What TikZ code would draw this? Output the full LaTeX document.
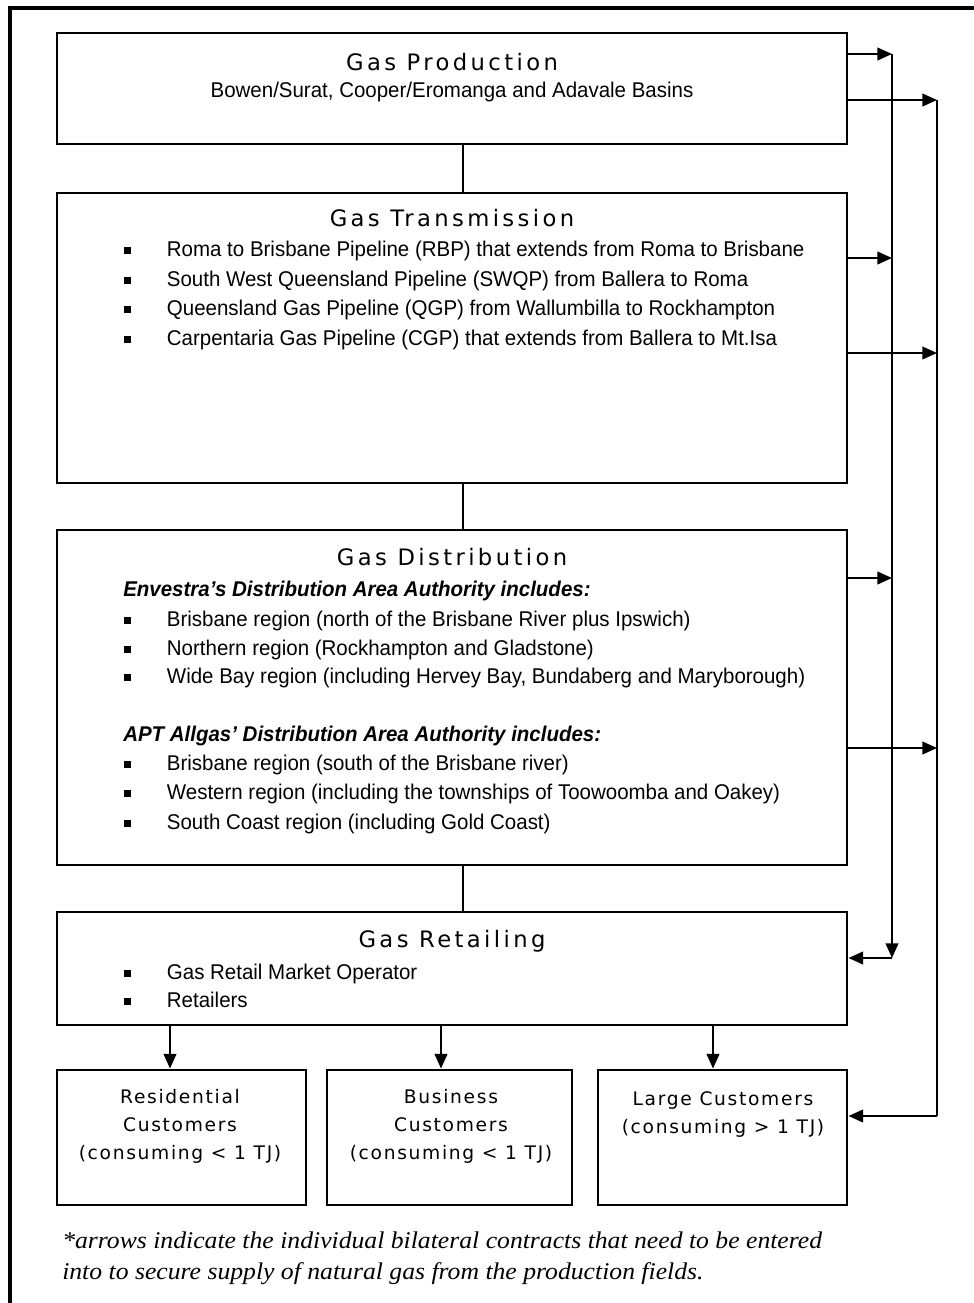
\documentclass[tikz,border=0pt]{standalone}
\usepackage{fontspec}
\usetikzlibrary{arrows.meta,fit}
\setmainfont{Liberation Sans}
\newfontfamily\bodyf{Liberation Sans}[FakeStretch=0.96]
\newfontfamily\titlef{DejaVu Sans}[LetterSpace=15]
\newfontfamily\custf{DejaVu Sans}[LetterSpace=9]
\newfontfamily\notef{Liberation Serif}[FakeStretch=1.07]
\newcommand\bul{\makebox[32pt][l]{\rule[0.12em]{5pt}{5pt}}}
\tikzset{
  box/.style={draw, line width=2.2pt, inner sep=0pt},
  title/.style={font=\titlef\fontsize{17}{20}\selectfont, inner sep=0pt},
  body/.style={font=\bodyf\fontsize{16}{18}\selectfont, inner sep=0pt, anchor=west, text height=0.75em, text depth=0.25em},
  sub/.style={font=\bodyf\bfseries\itshape\fontsize{16}{18}\selectfont, inner sep=0pt, anchor=west, text height=0.75em, text depth=0.25em},
  cust/.style={font=\custf\fontsize{14}{21}\selectfont, inner sep=0pt, align=center, anchor=north},
  note/.style={font=\notef\itshape\fontsize{18}{23}\selectfont, inner sep=0pt, anchor=base west},
  conn/.style={line width=1.5pt},
  arr/.style={line width=1.5pt, -{Triangle[length=11pt,width=9.5pt]}},
  frame/.style={line width=3pt},
}
\begin{document}
\begin{tikzpicture}[x=0.75pt,y=-0.75pt]
\useasboundingbox (0,0) rectangle (974,1303);
% outer frame (clipped on right and bottom)
\coordinate (fTL) at (10,7.5);
\coordinate (fTR) at (974,7.5);
\coordinate (fBL) at (10,1303);
\draw[frame] (fTR) -- (fTL) -- (fBL);
% boxes
\coordinate (a1) at (57,33);   \coordinate (a2) at (847,144);
\coordinate (b1) at (57,193);  \coordinate (b2) at (847,483);
\coordinate (c1) at (57,530);  \coordinate (c2) at (847,865);
\coordinate (d1) at (57,912);  \coordinate (d2) at (847,1025);
\coordinate (e1) at (57,1070); \coordinate (e2) at (306,1205);
\coordinate (f1) at (327,1070);\coordinate (f2) at (572,1205);
\coordinate (g1) at (598,1070);\coordinate (g2) at (847,1205);
\node[box, fit=(a1)(a2)] (prod) {};
\node[box, fit=(b1)(b2)] (trans) {};
\node[box, fit=(c1)(c2)] (dist) {};
\node[box, fit=(d1)(d2)] (retail) {};
\node[box, fit=(e1)(e2)] (res) {};
\node[box, fit=(f1)(f2)] (bus) {};
\node[box, fit=(g1)(g2)] (large) {};
% texts
\node[title] (tprod) at (452,62) {Gas Production};
\node[font=\bodyf\fontsize{16}{18}\selectfont, inner sep=0pt] (sprod) at (452,92) {Bowen/Surat, Cooper/Eromanga and Adavale Basins};
\node[title] (ttrans) at (452,218) {Gas Transmission};
\node[body] (t1) at (124,253) {\bul Roma to Brisbane Pipeline (RBP) that extends from Roma to Brisbane};
\node[body] (t2) at (124,283) {\bul South West Queensland Pipeline (SWQP) from Ballera to Roma};
\node[body] (t3) at (124,312) {\bul Queensland Gas Pipeline (QGP) from Wallumbilla to Rockhampton};
\node[body] (t4) at (124,342) {\bul Carpentaria Gas Pipeline (CGP) that extends from Ballera to Mt.Isa};
\node[title] (tdist) at (452,557) {Gas Distribution};
\node[sub] (s1) at (123,593) {Envestra’s Distribution Area Authority includes:};
\node[body] (u1) at (124,623) {\bul Brisbane region (north of the Brisbane River plus Ipswich)};
\node[body] (u2) at (124,652) {\bul Northern region (Rockhampton and Gladstone)};
\node[body] (u3) at (124,680) {\bul Wide Bay region (including Hervey Bay, Bundaberg and Maryborough)};
\node[sub] (s2) at (123,738) {APT Allgas’ Distribution Area Authority includes:};
\node[body] (v1) at (124,767) {\bul Brisbane region (south of the Brisbane river)};
\node[body] (v2) at (124,796) {\bul Western region (including the townships of Toowoomba and Oakey)};
\node[body] (v3) at (124,826) {\bul South Coast region (including Gold Coast)};
\node[title] (tret) at (452,941) {Gas Retailing};
\node[body] (w1) at (124,976) {\bul Gas Retail Market Operator};
\node[body] (w2) at (124,1004) {\bul Retailers};
\node[cust] (tres) at (180,1089) {Residential\\Customers\\(consuming < 1 TJ)};
\node[cust] (tbus) at (451,1089) {Business\\Customers\\(consuming < 1 TJ)};
\node[cust] (tlarge) at (723,1091) {Large Customers\\(consuming > 1 TJ)};
\node[note] (note1) at (62,1248) {*arrows indicate the individual bilateral contracts that need to be entered};
\node[note] (note2) at (62,1279) {into to secure supply of natural gas from the production fields.};
% vertical connectors
\draw[conn] (prod.south -| 463,0) -- (trans.north -| 463,0);
\draw[conn] (trans.south -| 463,0) -- (dist.north -| 463,0);
\draw[conn] (dist.south -| 463,0) -- (retail.north -| 463,0);
% down arrows to customers
\draw[arr] (retail.south -| 170,0) -- (res.north -| 170,0);
\draw[arr] (retail.south -| 441,0) -- (bus.north -| 441,0);
\draw[arr] (retail.south -| 713,0) -- (large.north -| 713,0);
% right side bus lines
\coordinate (p1) at (892,54);
\coordinate (p2) at (937,100);
\coordinate (q1) at (892,258);
\coordinate (q2) at (937,353);
\coordinate (r1) at (892,578);
\coordinate (r2) at (937,748);
\coordinate (p1end) at (892,958);
\coordinate (p2end) at (937,1116);
\draw[arr] (prod.east |- p1) -- (p1);
\draw[arr] (prod.east |- p2) -- (p2);
\draw[arr] (trans.east |- q1) -- (q1);
\draw[arr] (trans.east |- q2) -- (q2);
\draw[arr] (dist.east |- r1) -- (r1);
\draw[arr] (dist.east |- r2) -- (r2);
\draw[arr] (p1) -- (p1end);
\draw[arr] (p1end) -- (retail.east |- p1end);
\draw[conn] (p2) -- (p2end);
\draw[arr] (p2end) -- (large.east |- p2end);
\end{tikzpicture}
\end{document}
